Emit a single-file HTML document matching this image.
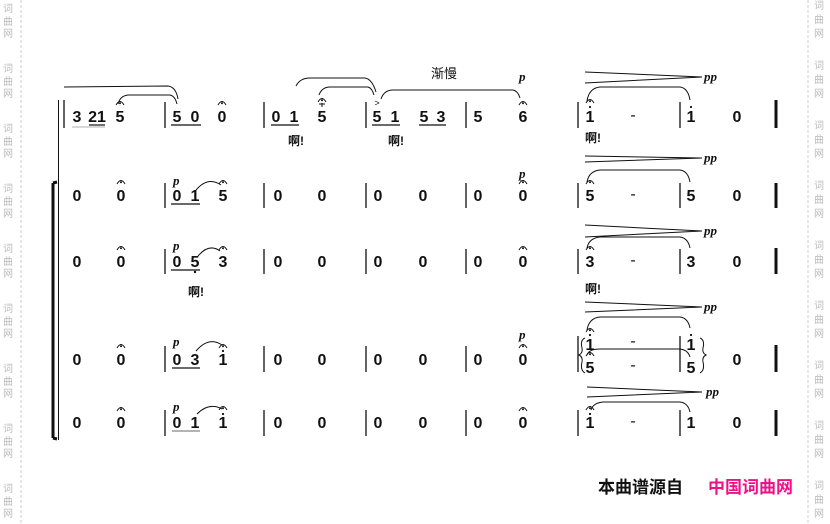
<!DOCTYPE html>
<html><head><meta charset="utf-8"><style>
html,body{margin:0;padding:0;background:#fff;}
svg{display:block}
.n{font:bold 16px "Liberation Sans",sans-serif;text-anchor:middle;fill:#111}
.p{font:italic bold 13px "Liberation Serif",serif;fill:#111}
.pp{font:italic bold 13px "Liberation Serif",serif;fill:#111}
.l{font:bold 12px "Liberation Sans","Noto Sans CJK SC",sans-serif;fill:#111;text-anchor:middle}
.w{font:10px "Noto Sans CJK SC",sans-serif;fill:#bbb;text-anchor:middle}
</style></head><body>
<svg width="830" height="524" viewBox="0 0 830 524" xmlns="http://www.w3.org/2000/svg">
<defs>
<g id="f"><path d="M-4 0 Q0 -7 4 0" fill="none" stroke="#111" stroke-width="1"/><circle cx="0" cy="-1.8" r="1" fill="#111"/></g>
</defs>
<line x1="21" y1="0" x2="21" y2="524" stroke="#ccc" stroke-dasharray="3,2"/>
<line x1="808" y1="0" x2="808" y2="524" stroke="#ccc" stroke-dasharray="3,2"/>
<g class="w">
<text x="8" y="12">词</text><text x="8" y="25">曲</text><text x="8" y="37">网</text>
<text x="8" y="72">词</text><text x="8" y="85">曲</text><text x="8" y="97">网</text>
<text x="8" y="132">词</text><text x="8" y="145">曲</text><text x="8" y="157">网</text>
<text x="8" y="192">词</text><text x="8" y="205">曲</text><text x="8" y="217">网</text>
<text x="8" y="252">词</text><text x="8" y="265">曲</text><text x="8" y="277">网</text>
<text x="8" y="312">词</text><text x="8" y="325">曲</text><text x="8" y="337">网</text>
<text x="8" y="372">词</text><text x="8" y="385">曲</text><text x="8" y="397">网</text>
<text x="8" y="432">词</text><text x="8" y="445">曲</text><text x="8" y="457">网</text>
<text x="8" y="492">词</text><text x="8" y="505">曲</text><text x="8" y="517">网</text>
<text x="819" y="9">词</text><text x="819" y="23">曲</text><text x="819" y="37">网</text>
<text x="819" y="69">词</text><text x="819" y="83">曲</text><text x="819" y="97">网</text>
<text x="819" y="129">词</text><text x="819" y="143">曲</text><text x="819" y="157">网</text>
<text x="819" y="189">词</text><text x="819" y="203">曲</text><text x="819" y="217">网</text>
<text x="819" y="249">词</text><text x="819" y="263">曲</text><text x="819" y="277">网</text>
<text x="819" y="309">词</text><text x="819" y="323">曲</text><text x="819" y="337">网</text>
<text x="819" y="369">词</text><text x="819" y="383">曲</text><text x="819" y="397">网</text>
<text x="819" y="429">词</text><text x="819" y="443">曲</text><text x="819" y="457">网</text>
<text x="819" y="489">词</text><text x="819" y="503">曲</text><text x="819" y="517">网</text>
</g>
<line x1="58.5" y1="100" x2="58.5" y2="440" stroke="#111" stroke-width="1"/>
<path d="M53 183 L53 438 M53 183 L57 182 M53 438 L57 439" stroke="#111" stroke-width="3" fill="none"/>
<g stroke="#111" stroke-width="1.3">
<line x1="64" y1="100" x2="64" y2="128"/>
<line x1="165" y1="102" x2="165" y2="128"/><line x1="264" y1="102" x2="264" y2="128"/><line x1="366" y1="102" x2="366" y2="128"/><line x1="466" y1="102" x2="466" y2="128"/><line x1="578" y1="102" x2="578" y2="128"/><line x1="680" y1="102" x2="680" y2="128"/>
<line x1="165" y1="183" x2="165" y2="208"/><line x1="264" y1="183" x2="264" y2="208"/><line x1="366" y1="183" x2="366" y2="208"/><line x1="466" y1="183" x2="466" y2="208"/><line x1="578" y1="183" x2="578" y2="208"/><line x1="680" y1="183" x2="680" y2="208"/>
<line x1="165" y1="249" x2="165" y2="274"/><line x1="264" y1="249" x2="264" y2="274"/><line x1="366" y1="249" x2="366" y2="274"/><line x1="466" y1="249" x2="466" y2="274"/><line x1="578" y1="249" x2="578" y2="274"/><line x1="680" y1="249" x2="680" y2="274"/>
<line x1="165" y1="346" x2="165" y2="372"/><line x1="264" y1="346" x2="264" y2="372"/><line x1="366" y1="346" x2="366" y2="372"/><line x1="466" y1="346" x2="466" y2="372"/><line x1="578" y1="336" x2="578" y2="372"/><line x1="680" y1="336" x2="680" y2="372"/>
<line x1="165" y1="410" x2="165" y2="436"/><line x1="264" y1="410" x2="264" y2="436"/><line x1="366" y1="410" x2="366" y2="436"/><line x1="466" y1="410" x2="466" y2="436"/><line x1="578" y1="410" x2="578" y2="436"/><line x1="680" y1="410" x2="680" y2="436"/>
</g>
<g stroke="#111" stroke-width="3">
<line x1="776" y1="100" x2="776" y2="128"/><line x1="776" y1="183" x2="776" y2="208"/><line x1="776" y1="248" x2="776" y2="274"/><line x1="776" y1="345" x2="776" y2="372"/><line x1="776" y1="410" x2="776" y2="436"/>
</g>
<g class="n">
<text x="77" y="122">3</text><text x="97" y="122">21</text><text x="120" y="122">5</text>
<text x="177" y="122">5</text><text x="195" y="122">0</text><text x="222" y="122">0</text>
<text x="276" y="122">0</text><text x="294" y="122">1</text><text x="322" y="122">5</text>
<text x="377" y="122">5</text><text x="395" y="122">1</text><text x="424" y="122">5</text><text x="441" y="122">3</text>
<text x="478" y="122">5</text><text x="523" y="122">6</text>
<text x="590" y="122">1</text><text x="633" y="120" style="font-weight:normal">-</text><text x="691" y="122">1</text><text x="737" y="122">0</text>
<text x="77" y="201">0</text><text x="121" y="201">0</text>
<text x="177" y="201">0</text><text x="195" y="201">1</text><text x="223" y="201">5</text>
<text x="278" y="201">0</text><text x="322" y="201">0</text>
<text x="378" y="201">0</text><text x="423" y="201">0</text>
<text x="478" y="201">0</text><text x="523" y="201">0</text>
<text x="590" y="201">5</text><text x="633" y="199" style="font-weight:normal">-</text><text x="691" y="201">5</text><text x="737" y="201">0</text>
<text x="77" y="267">0</text><text x="121" y="267">0</text>
<text x="177" y="267">0</text><text x="195" y="267">5</text><text x="223" y="267">3</text>
<text x="278" y="267">0</text><text x="322" y="267">0</text>
<text x="378" y="267">0</text><text x="423" y="267">0</text>
<text x="478" y="267">0</text><text x="523" y="267">0</text>
<text x="590" y="267">3</text><text x="633" y="265" style="font-weight:normal">-</text><text x="691" y="267">3</text><text x="737" y="267">0</text>
<text x="77" y="365">0</text><text x="121" y="365">0</text>
<text x="177" y="365">0</text><text x="195" y="365">3</text><text x="223" y="365">1</text>
<text x="278" y="365">0</text><text x="322" y="365">0</text>
<text x="378" y="365">0</text><text x="423" y="365">0</text>
<text x="478" y="365">0</text><text x="523" y="365">0</text>
<text x="590" y="350">1</text><text x="633" y="346" style="font-weight:normal">-</text><text x="691" y="350">1</text>
<text x="590" y="373">5</text><text x="633" y="370" style="font-weight:normal">-</text><text x="691" y="373">5</text>
<text x="737" y="365">0</text>
<text x="77" y="428">0</text><text x="121" y="428">0</text>
<text x="177" y="428">0</text><text x="195" y="428">1</text><text x="223" y="428">1</text>
<text x="278" y="428">0</text><text x="322" y="428">0</text>
<text x="378" y="428">0</text><text x="423" y="428">0</text>
<text x="478" y="428">0</text><text x="523" y="428">0</text>
<text x="590" y="428">1</text><text x="633" y="426" style="font-weight:normal">-</text><text x="691" y="428">1</text><text x="737" y="428">0</text>
</g>
<g fill="#111">
<circle cx="590" cy="107" r="1.1"/><circle cx="691" cy="107" r="1.1"/>
<circle cx="223" cy="351" r="1.1"/><circle cx="590" cy="335" r="1.1"/><circle cx="691" cy="335" r="1.1"/>
<circle cx="223" cy="414" r="1.1"/><circle cx="590" cy="414" r="1.1"/>
<circle cx="195" cy="272" r="1.2"/>
</g>
<g stroke="#111" stroke-width="1.2">
<line x1="89" y1="125" x2="105" y2="125"/>
<line x1="72" y1="127" x2="105" y2="127" stroke="#999" stroke-width="0.8"/>
<line x1="171" y1="125" x2="201" y2="125"/>
<line x1="271" y1="125" x2="299" y2="125"/>
<line x1="372" y1="125" x2="400" y2="125"/>
<line x1="419" y1="125" x2="446" y2="125"/>
<line x1="171" y1="204" x2="200" y2="204"/>
<line x1="171" y1="270" x2="200" y2="270"/>
<line x1="172" y1="368" x2="200" y2="368"/>
<line x1="172" y1="431" x2="200" y2="431" stroke="#888"/>
</g>
<use href="#f" x="120" y="105"/><use href="#f" x="222" y="105"/><use href="#f" x="322" y="102"/><use href="#f" x="523" y="105"/><use href="#f" x="590" y="103"/>
<use href="#f" x="121" y="184"/><use href="#f" x="223" y="184"/><use href="#f" x="523" y="184"/><use href="#f" x="590" y="184"/>
<use href="#f" x="121" y="250"/><use href="#f" x="223" y="250"/><use href="#f" x="523" y="250"/><use href="#f" x="590" y="250"/>
<use href="#f" x="121" y="348"/><use href="#f" x="223" y="348"/><use href="#f" x="523" y="348"/><use href="#f" x="590" y="332"/><use href="#f" x="590" y="356"/>
<use href="#f" x="121" y="411"/><use href="#f" x="223" y="410"/><use href="#f" x="523" y="411"/><use href="#f" x="590" y="410"/>
<path d="M319 104 L325 104 M322 103 L322 107" stroke="#111" stroke-width="1"/>
<text x="377" y="106" style="font:9px 'Liberation Sans',sans-serif;text-anchor:middle;fill:#111">&gt;</text>
<g fill="none" stroke="#111" stroke-width="1">
<path d="M64 87 L168 86 Q176 87 178 99"/>
<path d="M118 104 Q120 96 128 95 L170 95 Q175 96 177 104"/>
<path d="M296 86 Q300 78 310 78 L365 78 Q372 79 376 92"/>
<path d="M319 95 Q322 87 330 87 L368 87 Q372 88 374 95"/>
<path d="M381 99 Q384 90 393 90 L513 90 Q518 91 520 98"/>
<path d="M587 101 Q589 88 600 87 L680 87 Q688 88 690 100"/>
<path d="M587 182 Q589 171 600 170 L680 170 Q688 171 690 182"/>
<path d="M587 248 Q589 238 600 237 L680 237 Q688 238 690 248"/>
<path d="M587 330 Q589 318 600 317 L680 317 Q688 318 690 328"/>
<path d="M587 355 Q589 349 600 349 L680 349 Q688 350 690 357"/>
<path d="M591 410 Q593 403 603 402 L680 402 Q688 403 690 412"/>
<path d="M196 190 Q208 176 221 185"/>
<path d="M198 256 Q209 243 220 251"/>
<path d="M196 351 Q209 336 222 345"/>
<path d="M197 414 Q209 402 222 409"/>
<path d="M585 338 Q580 340 582 348 Q583 353 579 355 Q583 357 582 362 Q580 370 585 373"/>
<path d="M700 338 Q705 340 703 348 Q702 353 706 355 Q702 357 703 362 Q705 370 700 373"/>
<path d="M585 72 L702 77 L585 83"/>
<path d="M585 156 L702 158 L585 162"/>
<path d="M585 225 L702 231 L585 237"/>
<path d="M585 302 L702 307 L585 312"/>
<path d="M587 387 L702 392 L587 397"/>
</g>
<g class="pp"><text x="704" y="81">pp</text><text x="704" y="162">pp</text><text x="704" y="235">pp</text><text x="704" y="311">pp</text><text x="706" y="396">pp</text></g>
<g class="p"><text x="519" y="81">p</text><text x="519" y="178">p</text><text x="173" y="185">p</text><text x="173" y="250">p</text><text x="173" y="346">p</text><text x="519" y="339">p</text><text x="173" y="411">p</text></g>
<text x="444" y="78" style="font:13px 'Liberation Sans','Noto Sans CJK SC',sans-serif;text-anchor:middle;fill:#111">渐慢</text>
<g class="l"><text x="296" y="145">啊!</text><text x="396" y="145">啊!</text><text x="593" y="142">啊!</text><text x="196" y="296">啊!</text><text x="593" y="293">啊!</text></g>
<text x="598" y="493" style="font:bold 17px 'Liberation Sans','Noto Sans CJK SC',sans-serif;fill:#111">本曲谱源自</text>
<text x="708" y="493" style="font:bold 17px 'Liberation Sans','Noto Sans CJK SC',sans-serif;fill:#ee1188">中国词曲网</text>
</svg>
</body></html>
